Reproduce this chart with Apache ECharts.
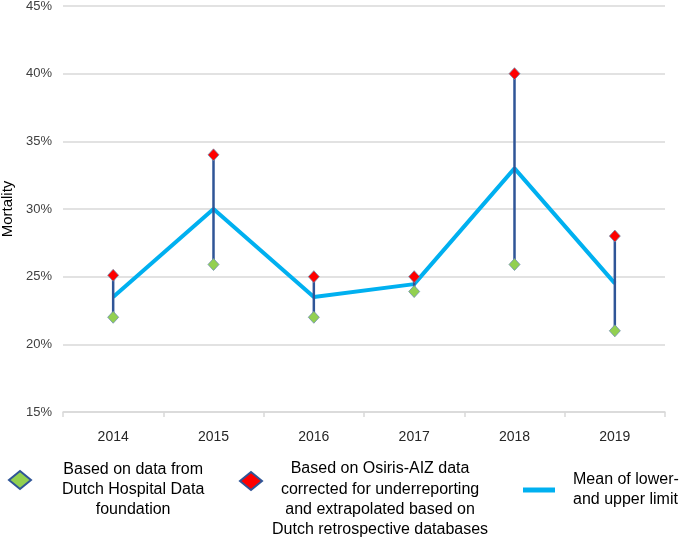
<!DOCTYPE html>
<html>
<head>
<meta charset="utf-8">
<script src="https://cdn.jsdelivr.net/npm/echarts@6/dist/echarts.min.js"></script>
<style>html,body{margin:0;padding:0;background:#fff}#c{width:685px;height:540px}</style>
</head>
<body>
<div id="c"></div>
<script>
var years = ['2014', '2015', '2016', '2017', '2018', '2019'];
var lowerDHD = [22.0, 25.9, 22.0, 23.9, 25.9, 21.0];
var upperOsiris = [25.1, 34.0, 25.0, 25.0, 40.0, 28.0];
var meanValues = [23.5, 30.0, 23.5, 24.45, 33.0, 24.5];
var yTicks = {min: 15, max: 45, interval: 5};

var nameGreen = 'Based on data from\nDutch Hospital Data\nfoundation';
var nameRed = 'Based on Osiris-AIZ data\ncorrected for underreporting\nand extrapolated based on\nDutch retrospective databases';
var nameMean = 'Mean of lower-\nand upper limit';

var FONT = '"Liberation Sans", Arial, sans-serif';

function centered(name) {
  return name.split('\n').map(function (l) { return '{a|' + l + '}'; }).join('\n');
}

var chart = echarts.init(document.getElementById('c'), null, {renderer: 'canvas'});
chart.setOption({
  animation: false,
  backgroundColor: '#fff',
  textStyle: {fontFamily: FONT},
  grid: {left: 63, right: 20, top: 6, bottom: 128, containLabel: false, outerBoundsMode: 'none'},
  xAxis: {
    type: 'category',
    data: years,
    boundaryGap: true,
    axisLine: {lineStyle: {color: '#d9d9d9', width: 1.5}},
    axisTick: {show: true, length: 5, lineStyle: {color: '#d9d9d9', width: 1.5}},
    axisLabel: {color: '#262626', fontSize: 14, margin: 18, fontFamily: FONT},
    splitLine: {show: false}
  },
  yAxis: {
    type: 'value',
    min: yTicks.min, max: yTicks.max, interval: yTicks.interval,
    name: 'Mortality',
    nameLocation: 'middle',
    nameRotate: 90,
    nameGap: 45,
    nameTextStyle: {color: '#000', fontSize: 15, fontFamily: FONT},
    axisLine: {show: false},
    axisTick: {show: false},
    axisLabel: {color: '#404040', fontSize: 13, margin: 11, formatter: '{value}%', fontFamily: FONT},
    splitLine: {lineStyle: {color: '#d9d9d9', width: 1.5}}
  },
  legend: [
    {
      data: [{name: nameGreen, icon: 'diamond'}],
      left: 8, top: 462, padding: 0,
      itemWidth: 22, itemHeight: 18,
      selectedMode: false,
      itemStyle: {borderColor: '#2F5597', borderWidth: 2},
      formatter: centered,
      textStyle: {padding: [20, 0, 0, 26], rich: {a: {align: 'center', fontSize: 16, lineHeight: 20, color: '#000', fontFamily: FONT}}}
    },
    {
      data: [{name: nameRed, icon: 'diamond'}],
      left: 239, top: 461, padding: 0,
      itemWidth: 22, itemHeight: 18,
      selectedMode: false,
      itemStyle: {borderColor: '#2F5597', borderWidth: 2},
      formatter: centered,
      textStyle: {padding: [37, 0, 0, 5], rich: {a: {align: 'center', fontSize: 16, lineHeight: 20.3, color: '#000', fontFamily: FONT}}}
    },
    {
      data: [{name: nameMean, icon: 'rect'}],
      left: 523, top: 470, padding: 0,
      itemWidth: 32, itemHeight: 5,
      selectedMode: false,
      textStyle: {padding: [0, 0, 0, 13], fontSize: 16, lineHeight: 20, color: '#000', fontFamily: FONT}
    }
  ],
  series: [
    {
      type: 'line',
      name: nameMean,
      data: meanValues,
      symbol: 'none',
      z: 2,
      lineStyle: {color: '#00B0F0', width: 4},
      itemStyle: {color: '#00B0F0'}
    },
    {
      type: 'custom',
      name: 'range',
      z: 3,
      data: years.map(function (y, i) { return [i, lowerDHD[i], upperOsiris[i]]; }),
      encode: {x: 0, y: [1, 2]},
      renderItem: function (params, api) {
        var lo = api.coord([api.value(0), api.value(1)]);
        var hi = api.coord([api.value(0), api.value(2)]);
        return {
          type: 'line',
          shape: {x1: lo[0], y1: lo[1], x2: hi[0], y2: hi[1]},
          style: {stroke: '#2F5597', lineWidth: 2.5}
        };
      }
    },
    {
      type: 'scatter',
      name: nameGreen,
      data: lowerDHD,
      symbol: 'diamond',
      symbolSize: [11, 12],
      z: 4,
      itemStyle: {color: '#92D050', borderColor: '#6F8FAF', borderWidth: 0.8, opacity: 1}
    },
    {
      type: 'scatter',
      name: nameRed,
      data: upperOsiris,
      symbol: 'diamond',
      symbolSize: [11, 12],
      z: 4,
      itemStyle: {color: '#FF0000', borderColor: '#6F8FAF', borderWidth: 0.8, opacity: 1}
    }
  ]
});
</script>
</body>
</html>
